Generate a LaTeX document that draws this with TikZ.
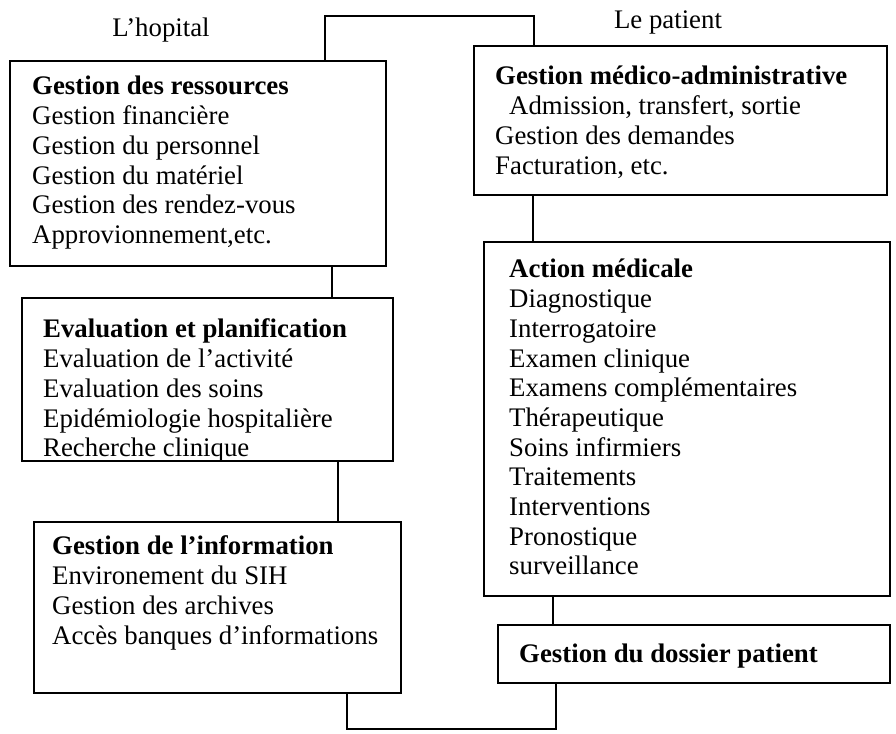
\documentclass[tikz,border=0pt]{standalone}
\usepackage{fontspec}
\setmainfont{Liberation Serif}
\lineskiplimit=-20pt\relax
\begin{document}
\begin{tikzpicture}[x=1pt,y=-1pt,
  box/.style={draw, line width=1.7pt, inner sep=0pt, outer sep=0pt, anchor=north west},
  txt/.style={anchor=north west, inner sep=0pt, align=left,
    font=\fontsize{26.8}{29.7}\selectfont},
  ttl/.style={inner sep=0pt, font=\fontsize{26.8}{29.7}\selectfont},
  conn/.style={line width=1.7pt}]
\useasboundingbox (0,0) rectangle (896,733);

% titles
\node[ttl] (th) at (161,30) {L’hopital};
\node[ttl] (tp) at (668,22) {Le patient};

% boxes
\node[box, minimum width=376pt, minimum height=205pt] (b1) at (10,61) {};
\node[box, minimum width=371pt, minimum height=163pt] (be) at (22,298) {};
\node[box, minimum width=367pt, minimum height=171pt] (b5) at (34,522) {};
\node[box, minimum width=413pt, minimum height=149pt] (b2) at (474,46) {};
\node[box, minimum width=406pt, minimum height=354pt] (b3) at (484,242) {};
\node[box, minimum width=392pt, minimum height=58pt] (b4) at (498,625) {};

% texts
\node[txt] (t1) at (32,74) {\strut\textbf{Gestion des ressources}\\
Gestion financière\\
Gestion du personnel\\
Gestion du matériel\\
Gestion des rendez-vous\\
Approvionnement,etc.};

\node[txt] (te) at (43,317) {\strut\textbf{Evaluation et planification}\\
Evaluation de l’activité\\
Evaluation des soins\\
Epidémiologie hospitalière\\
Recherche clinique};

\node[txt] (t5) at (52,534) {\strut\textbf{Gestion de l’information}\\
Environement du SIH\\
Gestion des archives\\
Accès banques d’informations};

\node[txt] (t2) at (495,64) {\strut\textbf{Gestion médico-administrative}\\
\hspace*{14pt}Admission, transfert, sortie\\
Gestion des demandes\\
Facturation, etc.};

\node[txt] (t3) at (509,257) {\strut\textbf{Action médicale}\\
Diagnostique\\
Interrogatoire\\
Examen clinique\\
Examens complémentaires\\
Thérapeutique\\
Soins infirmiers\\
Traitements\\
Interventions\\
Pronostique\\
surveillance};

\node[txt] (t4) at (519,642) {\strut\textbf{Gestion du dossier patient}};

% connector coordinates
\coordinate (ctl) at (325,16);
\coordinate (ctr) at (534,16);
\coordinate (c1e) at (332,0);
\coordinate (ce5) at (338,0);
\coordinate (c23) at (533,0);
\coordinate (c34) at (553,0);
\coordinate (cbr) at (556,729);
\coordinate (cbl) at (347,729);

% connectors
\draw[conn] (b1.north -| ctl) -- (ctl) -- (ctr) -- (b2.north -| ctr);
\draw[conn] (b1.south -| c1e) -- (be.north -| c1e);
\draw[conn] (be.south -| ce5) -- (b5.north -| ce5);
\draw[conn] (b2.south -| c23) -- (b3.north -| c23);
\draw[conn] (b3.south -| c34) -- (b4.north -| c34);
\draw[conn] (b4.south -| cbr) -- (cbr) -- (cbl) -- (b5.south -| cbl);
\end{tikzpicture}
\end{document}
